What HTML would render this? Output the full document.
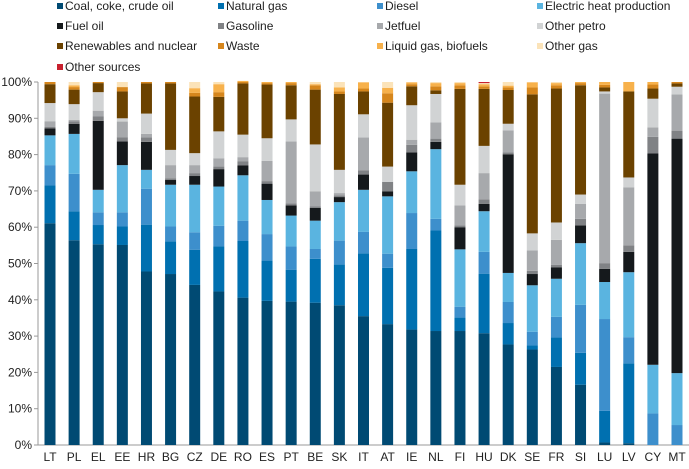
<!DOCTYPE html>
<html><head><meta charset="utf-8"><style>
body{margin:0;background:#fff;font-family:"Liberation Sans",sans-serif;}
svg text{font-family:"Liberation Sans",sans-serif;fill:#222;}
</style></head><body>
<svg id="chart" width="689" height="464" viewBox="0 0 689 464" xmlns="http://www.w3.org/2000/svg">
<g id="legend"></g>
<g id="axes"></g>
<g id="bars"></g>
</svg>
<script>
const countries=["LT","PL","EL","EE","HR","BG","CZ","DE","RO","ES","PT","BE","SK","IT","AT","IE","NL","FI","HU","DK","SE","FR","SI","LU","LV","CY","MT"];
const seriesNames=["Coal, coke, crude oil","Natural gas","Diesel","Electric heat production","Fuel oil","Gasoline","Jetfuel","Other petro","Renewables and nuclear","Waste","Liquid gas, biofuels","Other gas","Other sources"];
const seriesColors=["#004a73","#0070b0","#3d8fcc","#5ab4e0","#15191c","#808285","#a7a9ac","#d1d3d4","#6b4200","#d6861c","#f7b14b","#fbe3b9","#c8202e"];
const coal=[61.1,56.4,55.3,55.1,47.8,47.1,44.1,42.3,40.6,39.7,39.5,39.2,38.5,35.5,33.3,31.8,31.4,31.4,30.8,27.7,26.3,21.5,16.6,0.7,0.5,0,0];
const natGas=[10.4,8.0,5.3,5.1,12.9,9.0,9.7,12.4,15.6,11.1,8.8,12.1,11.2,17.3,15.5,22.2,27.7,3.7,16.4,5.9,1.1,8.1,8.8,8.7,22.0,0,0];
const diesel=[5.6,10.3,3.5,3.9,9.9,4.1,4.8,5.7,5.6,7.3,6.4,2.7,6.6,5.9,3.9,9.9,3.2,3.0,6.0,5.8,3.8,5.7,13.2,25.3,7.2,8.7,5.5];
const elecHeat=[8.2,11.0,6.2,13.0,5.2,11.5,13.1,10.8,12.5,9.4,8.5,7.8,10.6,11.6,15.8,11.5,19.2,15.8,11.2,8.0,12.8,10.5,17.0,10.2,17.9,13.4,14.3];
const fuelOil=[1.9,2.8,19.0,6.5,7.7,1.3,2.4,4.8,2.7,4.5,2.8,3.5,1.4,4.2,1.4,5.2,2.0,6.1,2.0,32.7,3.1,3.1,4.9,3.6,5.6,58.2,64.6];
const gasoline=[0.4,0.7,1.2,1.2,1.2,0.5,0.8,0.7,1.1,0.7,0.6,0.4,0.5,1.2,2.6,2.1,0.9,0.5,1.3,0.5,0.9,0.7,1.8,1.6,1.8,4.6,2.2];
const jetfuel=[1.6,0.4,1.6,4.3,1.0,3.6,2.2,2.3,1.2,5.6,17.0,4.2,0.6,9.0,0,1.4,4.5,5.5,7.2,6.1,5.6,6.9,4.1,46.7,16.0,2.6,10.0];
const otherPetro=[5.0,4.3,5.1,0.9,5.6,4.2,3.3,7.4,6.2,6.2,6.1,12.9,6.4,6.4,4.2,9.5,7.8,5.7,7.5,1.8,4.7,4.8,2.6,0.6,2.7,7.9,2.1];
const renewables=[5.2,4.0,2.5,7.4,8.3,18.3,15.6,9.5,14.1,14.8,9.4,15.1,20.9,6.3,17.6,5.2,1.0,26.4,15.7,9.3,38.3,36.9,30.1,1.1,23.7,2.8,0.9];
const waste=[0.6,0.7,0.3,1.2,0.4,0.4,1.0,1.3,0.4,0.4,0.6,1.2,0.7,0.8,2.6,0.6,1.1,1.0,0.7,0.7,1.9,0.9,0.6,0.7,0,1.1,0.4];
const liquidGas=[0,0.5,0,0,0,0,1.3,2.2,0.3,0.3,0.3,0.3,1.1,1.7,1.5,0.5,0.9,0.6,0.6,0.5,1.4,0.6,0.3,0.8,2.6,0.7,0];
const otherGas=[0,0.9,0,1.4,0,0,1.7,0.6,0,0,0,0.6,1.5,0.1,1.6,0.1,0.3,0.3,0.3,1.0,0.1,0.3,0,0,0,0,0];
const otherSources=[0,0,0,0,0,0,0,0,0,0,0,0,0,0,0,0,0,0,0.3,0,0,0,0,0,0,0,0];
const yTicks=[0,10,20,30,40,50,60,70,80,90,100];
const series=[coal,natGas,diesel,elecHeat,fuelOil,gasoline,jetfuel,otherPetro,renewables,waste,liquidGas,otherGas,otherSources];

const NS="http://www.w3.org/2000/svg";
const plotTop=82,plotBottom=445,axisX=38;
const firstX=50,lastX=677,barW=11;
function yScale(v){return plotBottom-(v/100)*(plotBottom-plotTop);}
function xScale(i){return firstX+i*(lastX-firstX)/(countries.length-1);}
function mk(tag,attrs,parent){const e=document.createElementNS(NS,tag);for(const k in attrs)e.setAttribute(k,attrs[k]);parent.appendChild(e);return e;}

const axes=document.getElementById('axes');
const yAxis=mk('line',{x1:axisX,y1:plotTop,x2:axisX,y2:plotBottom,stroke:'#999','stroke-width':1},axes);


const xAxis=mk('line',{x1:axisX,y1:plotBottom,x2:689,y2:plotBottom,stroke:'#999','stroke-width':1},axes);


yTicks.forEach(t=>{
  const y=yScale(t);
  const tk=mk('line',{x1:axisX-4,y1:y,x2:axisX,y2:y,stroke:'#999'},axes);
  
  
  const tx=mk('text',{x:axisX-6,y:y+4,'text-anchor':'end','font-size':12},axes);
  tx.textContent=t+'%';
  
  
});
const bars=document.getElementById('bars');
countries.forEach((c,i)=>{
  const g=mk('g',{},bars);
  
  
  let cum=0;
  series.forEach((s,k)=>{
    const v=s[i];if(!v)return;
    const y0=yScale(cum),y1=yScale(cum+v);
    const r=mk('rect',{x:xScale(i)-barW/2,y:y1,width:barW,height:y0-y1,fill:seriesColors[k]},g);
    
    
    cum+=v;
  });
  const lb=mk('text',{x:xScale(i),y:461,'text-anchor':'middle','font-size':12},axes);
  lb.textContent=c;
  
  
});
const legend=document.getElementById('legend');
const colX=[57,218,377,537],rowY=[6,26,46,67];
seriesNames.forEach((n,k)=>{
  const cx=colX[k%4],cy=rowY[Math.floor(k/4)];
  const g=mk('g',{},legend);
  
  
  mk('rect',{x:cx,y:cy-3,width:6,height:6,fill:seriesColors[k]},g);
  const t=mk('text',{x:cx+8,y:cy+4,'font-size':12},g);
  t.textContent=n;
});
</script>
</body></html>
